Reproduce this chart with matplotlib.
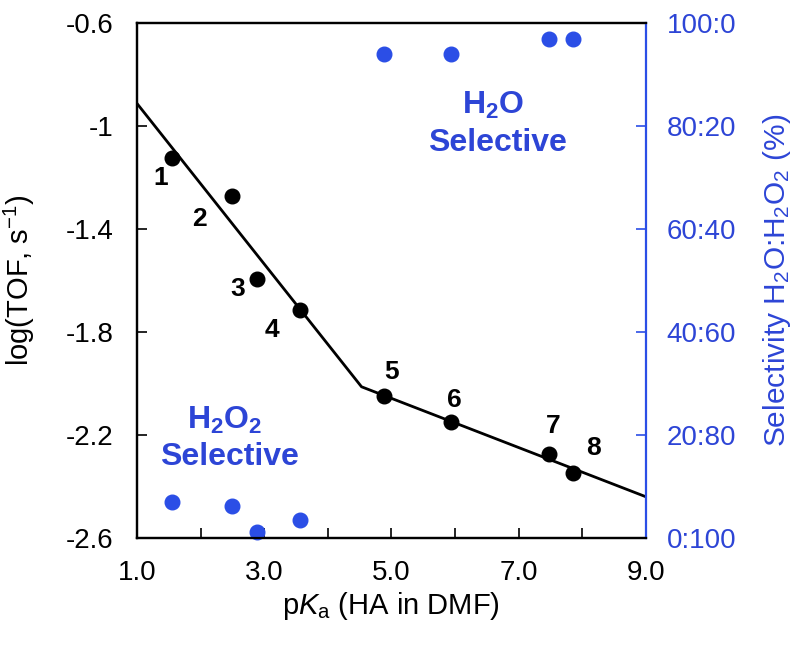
import numpy as np
import matplotlib
matplotlib.use("Agg")
import matplotlib.pyplot as plt

plt.rcParams['font.family'] = ['Liberation Sans', 'DejaVu Sans']
plt.rcParams['mathtext.fontset'] = 'custom'
plt.rcParams['mathtext.rm'] = 'Liberation Sans'
plt.rcParams['mathtext.it'] = 'Liberation Sans:italic'
plt.rcParams['mathtext.bf'] = 'Liberation Sans:bold'

# data
pka = [1.55, 2.50, 2.89, 3.57, 4.89, 5.93, 7.48, 7.86]
log_tof = [-1.126, -1.273, -1.596, -1.715, -2.048, -2.149, -2.272, -2.347]
selectivity = [7.0, 6.3, 1.2, 3.5, 93.9, 93.9, 96.8, 96.8]
point_labels = ['1', '2', '3', '4', '5', '6', '7', '8']
fit_x = [1.0, 4.53, 9.0]
fit_y = [-0.913, -2.013, -2.440]
x_ticks = [1, 2, 3, 4, 5, 6, 7, 8, 9]
x_ticklabels = ['1.0', '', '3.0', '', '5.0', '', '7.0', '', '9.0']
y_ticks = [-0.6, -1.0, -1.4, -1.8, -2.2, -2.6]
y_ticklabels = ['-0.6', '-1', '-1.4', '-1.8', '-2.2', '-2.6']
sel_ticks = [0, 20, 40, 60, 80, 100]
sel_ticklabels = ['0:100', '20:80', '40:60', '60:40', '80:20', '100:0']

blue = '#2B4EE6'
blue_text = '#2D45D6'

# offsets of the number labels from their points (pixels)
label_offsets = [(-11, -20), (-33, -23), (-19, -10), (-28, -20),
                 (7, 24), (4, 22), (4, 28), (20, 25)]

fig = plt.figure(figsize=(8.1, 6.49), dpi=100)
ax = fig.add_axes([0.169, 0.171, 0.6285, 0.794])
ax2 = ax.twinx()

ax.plot(fit_x, fit_y, color='black', lw=2.0, zorder=2)
ax.plot(pka, log_tof, 'o', color='black', ms=10.5, zorder=3)
for x, y, t, off in zip(pka, log_tof, point_labels, label_offsets):
    ax.annotate(t, (x, y), xytext=off, textcoords='offset pixels',
                ha='center', va='center', fontsize=19, fontweight='bold')

ax2.plot(pka, selectivity, 'o', color=blue, ms=10.5, clip_on=False)

ax.set_xlim(1, 9)
ax.set_ylim(-2.6, -0.6)
ax2.set_ylim(0, 100)

ax.set_xticks(x_ticks)
ax.set_xticklabels(x_ticklabels)
ax.set_yticks(y_ticks)
ax.set_yticklabels(y_ticklabels)
ax2.set_yticks(sel_ticks)
ax2.set_yticklabels(sel_ticklabels)

ax.tick_params(axis='both', direction='in', length=7.5, width=1.2,
               labelsize=20, pad=17)
ax.tick_params(axis='x', pad=16)
ax2.tick_params(axis='y', direction='in', length=7, width=1.2,
                labelsize=20, pad=15, colors=blue_text)
ax2.tick_params(axis='y', color=blue)

for s in ax.spines.values():
    s.set_linewidth(1.6)
for s in ax2.spines.values():
    s.set_linewidth(1.6)
ax2.spines['right'].set_color(blue)
ax.spines['right'].set_visible(False)

ax.set_xlabel(r'p$K_\mathrm{a}$ (HA in DMF)', fontsize=21)
ax.set_ylabel(r'log(TOF, s$^\mathrm{-1}$)', fontsize=21)
ax2.set_ylabel(r'Selectivity H$_\mathrm{2}$O:H$_\mathrm{2}$O$_\mathrm{2}$ (%)',
               fontsize=21.5, color=blue_text)
ax.xaxis.set_label_coords(0.5, -0.1)
ax.yaxis.set_label_coords(-0.196, 0.5)
ax2.yaxis.set_label_coords(1.226, 0.5)

ax.text(0.70, 0.84, r'H$_\mathbf{2}$O', transform=ax.transAxes, ha='center',
        va='center', fontsize=23, fontweight='bold', color=blue_text)
ax.text(0.709, 0.766, 'Selective', transform=ax.transAxes, ha='center',
        va='center', fontsize=23, fontweight='bold', color=blue_text)
ax.text(0.173, 0.229, r'H$_\mathbf{2}$O$_\mathbf{2}$', transform=ax.transAxes,
        ha='center', va='center', fontsize=23, fontweight='bold', color=blue_text)
ax.text(0.182, 0.158, 'Selective', transform=ax.transAxes, ha='center',
        va='center', fontsize=23, fontweight='bold', color=blue_text)

fig.savefig('out.png', dpi=100)
